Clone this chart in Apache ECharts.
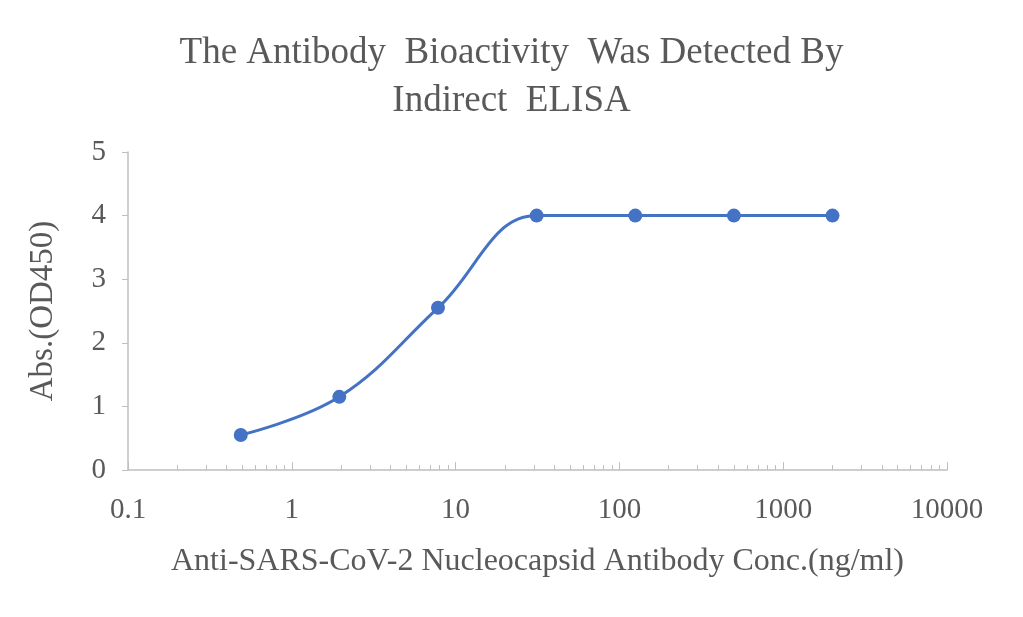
<!DOCTYPE html>
<html><head><meta charset="utf-8">
<script src="https://cdn.jsdelivr.net/npm/echarts@6/dist/echarts.min.js"></script>
<style>html,body{margin:0;padding:0;background:#fff}#c{width:1023px;height:617px}</style>
</head><body><div id="c"></div>
<script>
const concentrations = [0.488, 1.95, 7.81, 31.25, 125, 500, 2000];
const absorbance = [0.55, 1.15, 2.55, 4.0, 4.0, 4.0, 4.0];
const titleText = 'The Antibody  Bioactivity  Was Detected By\nIndirect  ELISA';
const xName = 'Anti-SARS-CoV-2 Nucleocapsid Antibody Conc.(ng/ml)';
const yName = 'Abs.(OD450)';
const font = 'Liberation Serif';
const chart = echarts.init(document.getElementById('c'));
chart.setOption({
  animation: false,
  title: {text: titleText, left: 'center', top: 24,
    textStyle: {fontFamily: font, fontSize: 37, fontWeight: 'normal', color: '#595959', lineHeight: 48}},
  grid: {left: 128, right: 76, top: 152, bottom: 147},
  xAxis: {type: 'log', logBase: 10, min: 0.1, max: 10000,
    name: xName, nameLocation: 'middle', nameGap: 76,
    nameTextStyle: {fontFamily: font, fontSize: 32, color: '#595959'},
    axisLine: {lineStyle: {color: '#bfbfbf', width: 1.5}},
    axisTick: {inside: true, length: 8, lineStyle: {color: '#bfbfbf'}},
    minorTick: {show: true, splitNumber: 9, length: 5, lineStyle: {color: '#bfbfbf'}},
    axisLabel: {fontFamily: font, fontSize: 29, color: '#595959', margin: 26,
      formatter: v => String(v)},
    splitLine: {show: false}},
  yAxis: {type: 'value', min: 0, max: 5, interval: 1,
    name: yName, nameLocation: 'middle', nameGap: 68,
    nameTextStyle: {fontFamily: font, fontSize: 33, color: '#595959'},
    axisLine: {show: true, lineStyle: {color: '#bfbfbf', width: 1.5}},
    axisTick: {show: true, length: 6, lineStyle: {color: '#bfbfbf'}},
    axisLabel: {fontFamily: font, fontSize: 29, color: '#595959', margin: 22},
    splitLine: {show: false}},
  series: [{type: 'line', smooth: 0.4,
    data: concentrations.map((c, i) => [c, absorbance[i]]),
    symbol: 'circle', symbolSize: 14,
    itemStyle: {color: '#4472c4'}, lineStyle: {color: '#4472c4', width: 3}}]
});
</script></body></html>
